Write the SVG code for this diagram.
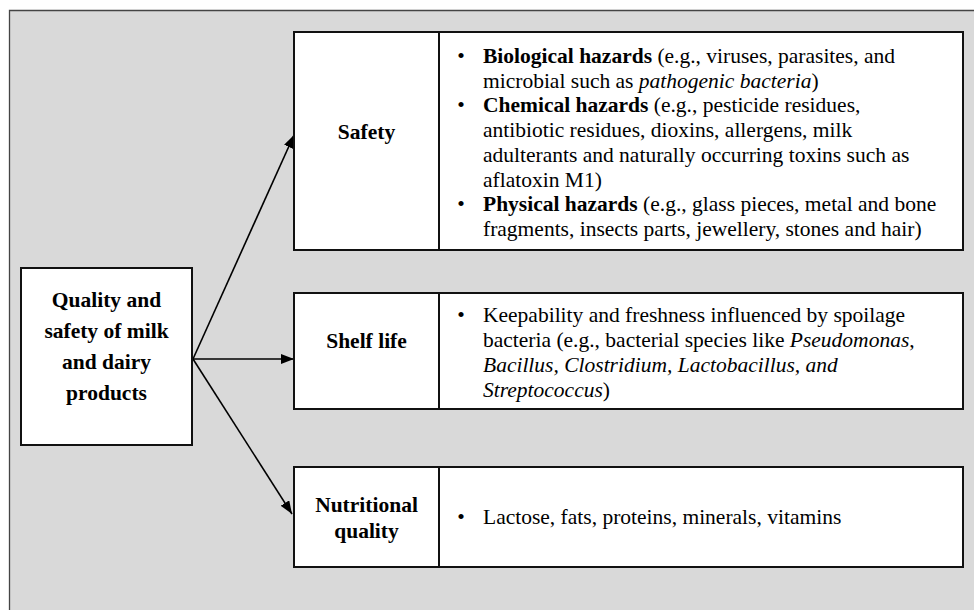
<svg xmlns="http://www.w3.org/2000/svg" width="974" height="610" viewBox="0 0 974 610">
  <style>
    text { font-family: "Liberation Serif", "Times New Roman", serif; font-size: 21.5px; fill: #000; }
    .b { font-weight: bold; }
    .i { font-style: italic; }
    .lbl { font-weight: bold; text-anchor: middle; }
    .bul { text-anchor: middle; }
    .box { fill: #fff; stroke: #111; stroke-width: 2; }
    .div { stroke: #111; stroke-width: 2; }
    .conn { stroke: #000; stroke-width: 1.6; fill: none; marker-end: url(#arrow); }
  </style>
  <defs>
    <marker id="arrow" viewBox="0 0 13 10" refX="13" refY="5" markerWidth="13" markerHeight="10" markerUnits="userSpaceOnUse" orient="auto">
      <path d="M0,0 L13,5 L0,10 Z" fill="#000"/>
    </marker>
  </defs>

  <!-- canvas -->
  <rect x="0" y="0" width="974" height="610" fill="#fff"/>
  <rect x="9" y="10" width="970" height="605" fill="#d9d9d9"/>
  <path d="M9.5,615 L9.5,10.5 L979,10.5" fill="none" stroke="#444" stroke-width="1.3"/>

  <!-- connectors -->
  <g id="connectors">
    <line class="conn" x1="193" y1="359" x2="294" y2="135"/>
    <line class="conn" x1="193" y1="359" x2="294" y2="359"/>
    <line class="conn" x1="193" y1="359" x2="292" y2="514"/>
  </g>

  <!-- root node -->
  <g id="node-root">
    <rect class="box" x="21" y="268" width="171" height="177"/>
    <text class="lbl" x="106.5" y="307">Quality and</text>
    <text class="lbl" x="106.5" y="338">safety of milk</text>
    <text class="lbl" x="106.5" y="369">and dairy</text>
    <text class="lbl" x="106.5" y="400">products</text>
  </g>

  <!-- safety -->
  <g id="node-safety">
    <rect class="box" x="294" y="32" width="669" height="218"/>
    <line class="div" x1="439" y1="32" x2="439" y2="250"/>
    <text class="lbl" x="366.5" y="139">Safety</text>
    <text class="bul" x="461" y="63">•</text>
    <text x="483" y="63"><tspan class="b">Biological hazards</tspan> (e.g., viruses, parasites, and</text>
    <text x="483" y="87.7">microbial such as <tspan class="i">pathogenic bacteria</tspan>)</text>
    <text class="bul" x="461" y="112.4">•</text>
    <text x="483" y="112.4"><tspan class="b">Chemical hazards</tspan> (e.g., pesticide residues,</text>
    <text x="483" y="137.1">antibiotic residues, dioxins, allergens, milk</text>
    <text x="483" y="161.8">adulterants and naturally occurring toxins such as</text>
    <text x="483" y="186.5">aflatoxin M1)</text>
    <text class="bul" x="461" y="211.2">•</text>
    <text x="483" y="211.2"><tspan class="b">Physical hazards</tspan> (e.g., glass pieces, metal and bone</text>
    <text x="483" y="235.9">fragments, insects parts, jewellery, stones and hair)</text>
  </g>

  <!-- shelf life -->
  <g id="node-shelf-life">
    <rect class="box" x="294" y="293" width="669" height="116"/>
    <line class="div" x1="439" y1="293" x2="439" y2="409"/>
    <text class="lbl" x="366.5" y="348">Shelf life</text>
    <text class="bul" x="461" y="322">•</text>
    <text x="483" y="322">Keepability and freshness influenced by spoilage</text>
    <text x="483" y="347">bacteria (e.g., bacterial species like <tspan class="i">Pseudomonas</tspan>,</text>
    <text x="483" y="372" class="i">Bacillus, Clostridium, Lactobacillus, and</text>
    <text x="483" y="397"><tspan class="i">Streptococcus</tspan>)</text>
  </g>

  <!-- nutritional quality -->
  <g id="node-nutritional">
    <rect class="box" x="294" y="467" width="669" height="100"/>
    <line class="div" x1="439" y1="467" x2="439" y2="567"/>
    <text class="lbl" x="366.5" y="512">Nutritional</text>
    <text class="lbl" x="366.5" y="538">quality</text>
    <text class="bul" x="461" y="524">•</text>
    <text x="483" y="524">Lactose, fats, proteins, minerals, vitamins</text>
  </g>
</svg>
